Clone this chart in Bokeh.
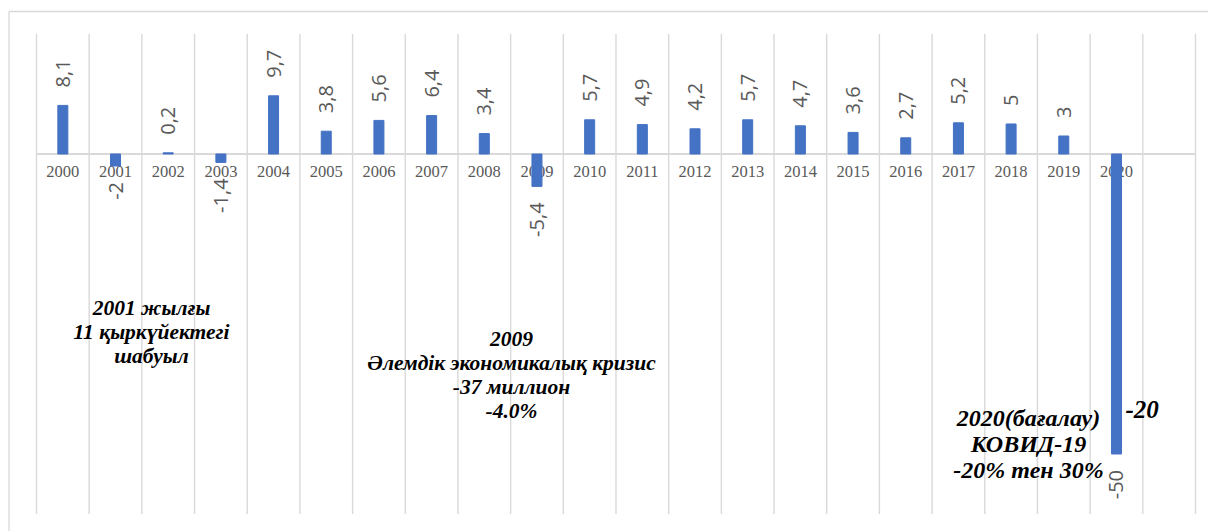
import numpy as np
from bokeh.plotting import figure
from bokeh.models import Range1d
from bokeh.core.properties import value
from bokeh.embed import file_html
from bokeh.resources import INLINE

# ---------------- data ----------------
years = ["2000", "2001", "2002", "2003", "2004", "2005", "2006", "2007", "2008", "2009",
         "2010", "2011", "2012", "2013", "2014", "2015", "2016", "2017", "2018", "2019", "2020"]
values = [8.1, -2, 0.2, -1.4, 9.7, 3.8, 5.6, 6.4, 3.4, -5.4,
          5.7, 4.9, 4.2, 5.7, 4.7, 3.6, 2.7, 5.2, 5, 3, -50]
value_labels = ["8,1", "-2", "0,2", "-1,4", "9,7", "3,8", "5,6", "6,4", "3,4", "-5,4",
                "5,7", "4,9", "4,2", "5,7", "4,7", "3,6", "2,7", "5,2", "5", "3", "-50"]

note_2001 = "2001 жылғы\n11 қыркүйектегі\nшабуыл"
note_2009 = "2009\nӘлемдік экономикалық кризис\n-37 миллион\n-4.0%"
note_2020 = "2020(бағалау)\nКОВИД-19\n-20% тен 30%"
note_2020_value = "-20"

y_min, y_max = -60, 20

# ---------------- figure ----------------
n_slots = len(years) + 1
centers = [i + 0.5 for i in range(len(years))]

x0, x1 = -0.6834, 22.247
y0, y1 = -62.917, 25.583

p = figure(width=1208, height=531, x_range=Range1d(x0, x1), y_range=Range1d(y0, y1),
           output_backend="svg", toolbar_location=None, min_border=0,
           x_axis_location=None, y_axis_location=None)
p.grid.visible = False
p.outline_line_color = None
p.background_fill_color = "white"
p.border_fill_color = "white"

grid_col = "#d9d9d9"
# outer chart border (left & top)
bx, by = -0.522, 23.75
p.segment(x0=[bx, bx], y0=[by, by], x1=[bx, x1], y1=[y0, by],
          line_color=grid_col, line_width=1.3)

# vertical category gridlines
gx = list(range(n_slots + 1))
p.segment(x0=gx, y0=[y_min] * len(gx), x1=gx, y1=[y_max] * len(gx),
          line_color=grid_col, line_width=1.4)
# zero line
p.segment(x0=[0], y0=[0], x1=[n_slots], y1=[0], line_color=grid_col, line_width=2)

# category labels at the zero line
p.text(x=centers, y=[0] * len(years), text=years, text_align="center", text_baseline="top",
       y_offset=12, text_font=value("Liberation Serif"), text_font_size="16.5px",
       text_color="#595959")

# bars
p.vbar(x=centers, top=values, bottom=0, width=0.19, fill_color="#4472C4",
       line_color="#4472C4")

# data labels (rotated)
pos_x = [c for c, v in zip(centers, values) if v >= 0]
pos_y = [v for v in values if v >= 0]
pos_t = [t for t, v in zip(value_labels, values) if v >= 0]
neg_x = [c for c, v in zip(centers, values) if v < 0]
neg_y = [v for v in values if v < 0]
neg_t = [t for t, v in zip(value_labels, values) if v < 0]

lab_kw = dict(angle=np.pi / 2, text_baseline="middle", text_font=value("Open Sans"),
              text_font_size="20px", text_color="#595959")
p.text(x=pos_x, y=pos_y, text=pos_t, text_align="left", y_offset=-18, **lab_kw)
p.text(x=neg_x, y=neg_y, text=neg_t, text_align="right", y_offset=16, **lab_kw)

# annotations
note_kw = dict(text_align="center", text_baseline="top", text_font=value("Liberation Serif"),
               text_font_style="bold italic", text_color="black", text_line_height=1.0)
p.text(x=[2.183], y=[-23.7], text=[note_2001], text_font_size="21.5px", **note_kw)
p.text(x=[9.017], y=[-28.9], text=[note_2009], text_font_size="21.5px", **note_kw)
p.text(x=[18.83], y=[-41.8], text=[note_2020], text_font_size="24px", **note_kw)
p.text(x=[20.67], y=[-42.58], text=[note_2020_value], text_align="left",
       text_baseline="alphabetic", text_font=value("Liberation Serif"),
       text_font_style="bold italic", text_font_size="25px", text_color="black")

open("out.html", "w").write(file_html(p, INLINE))
